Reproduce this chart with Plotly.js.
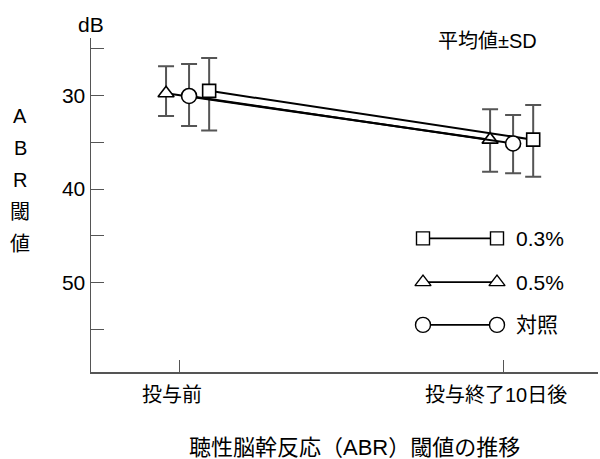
<!DOCTYPE html>
<html>
<head>
<meta charset="utf-8">
<script src="https://cdn.plot.ly/plotly-3.0.1.min.js"></script>
<style>html,body{margin:0;padding:0;background:#fff;}#chart{width:600px;height:459px;}</style>
</head>
<body>
<div id="chart"></div>
<script>
// ---- data ----
const categories = ['投与前', '投与終了10日後'];
const seriesNames = ['0.3%', '0.5%', '対照'];
const vals03 = [29.5, 34.72];
const errPlus03 = [4.25, 3.96];
const errMinus03 = [3.5, 3.71];
const vals05 = [29.76, 34.72];
const errPlus05 = [2.42, 3.42];
const errMinus05 = [2.89, 3.25];
const valsCtl = [30.05, 35.13];
const errPlusCtl = [3.21, 3.19];
const errMinusCtl = [3.42, 3.05];
const yTickVals = [30, 40, 50];
const yLabelChars = ['A', 'B', 'R', '閾', '値'];
const yUnit = 'dB';
const noteText = '平均値±SD';
const bottomTitle = '聴性脳幹反応（ABR）閾値の推移';

// ---- style / layout ----
const FONT = 'Liberation Sans, Arial, "Noto Sans CJK JP", sans-serif';
const W = 600, H = 459;
const M = {l: 91, r: 2, t: 38, b: 87};
const pw = W - M.l - M.r, ph = H - M.t - M.b;
const px2x = x => (x - M.l) / pw;
const px2y = y => (H - M.b - y) / ph;

const idx = categories.map((c, i) => i);
const groups = [
  {name: seriesNames[0], v: vals03, ep: errPlus03, em: errMinus03, sym: 'square', size: 13, off: 0.093},
  {name: seriesNames[1], v: vals05, ep: errPlus05, em: errMinus05, sym: 'triangle-up', size: 14, off: -0.04},
  {name: seriesNames[2], v: valsCtl, ep: errPlusCtl, em: errMinusCtl, sym: 'circle', size: 15, off: 0.031}
];

const traces = [];
groups.forEach(g => {
  traces.push({
    type: 'scatter', mode: 'lines+markers', name: g.name, showlegend: false,
    x: idx.map(i => i + g.off), y: g.v,
    line: {color: '#000', width: 2},
    marker: {symbol: g.sym, size: g.size, color: '#fff', line: {color: '#000', width: 1.6}},
    error_y: {type: 'data', symmetric: false, array: g.ep, arrayminus: g.em,
              color: '#555', thickness: 2, width: 8},
    cliponaxis: false
  });
});

// legend drawn on an overlay axis (0..1 over the plot area)
const legendRows = [0.400, 0.269, 0.141];
const legX = [px2x(423), px2x(497)];
groups.forEach((g, k) => {
  traces.push({
    type: 'scatter', mode: 'lines+markers', showlegend: false, hoverinfo: 'skip',
    xaxis: 'x2', yaxis: 'y2',
    x: legX, y: [legendRows[k], legendRows[k]],
    line: {color: '#000', width: 1.6},
    marker: {symbol: g.sym, size: g.size, color: '#fff', line: {color: '#000', width: 1.4}},
    cliponaxis: false
  });
});

const annotations = [];
groups.forEach((g, k) => {
  annotations.push({xref: 'paper', yref: 'paper', x: px2x(514), y: legendRows[k],
    xanchor: 'left', yanchor: 'middle', showarrow: false, text: g.name,
    font: {family: FONT, size: 21, color: '#000'}});
});
annotations.push({xref: 'paper', yref: 'paper', x: px2x(487), y: px2y(41),
  xanchor: 'center', yanchor: 'middle', showarrow: false, text: noteText,
  font: {family: FONT, size: 20, color: '#000'}});
annotations.push({xref: 'paper', yref: 'paper', x: px2x(91), y: px2y(24),
  xanchor: 'center', yanchor: 'middle', showarrow: false, text: yUnit,
  font: {family: FONT, size: 21, color: '#000'}});
annotations.push({xref: 'paper', yref: 'paper', x: px2x(354), y: px2y(447),
  xanchor: 'center', yanchor: 'middle', showarrow: false, text: bottomTitle,
  font: {family: FONT, size: 22, color: '#000'}});
yLabelChars.forEach((c, i) => {
  annotations.push({xref: 'paper', yref: 'paper', x: px2x(20), y: px2y(116 + i * 32),
    xanchor: 'center', yanchor: 'middle', showarrow: false, text: c,
    font: {family: FONT, size: 20, color: '#000'}});
});

const layout = {
  width: W, height: H, margin: M,
  paper_bgcolor: '#fff', plot_bgcolor: '#fff',
  showlegend: false,
  font: {family: FONT, size: 20, color: '#000'},
  xaxis: {
    range: [-0.2716, 1.293], tickvals: idx, ticktext: categories,
    ticks: 'inside', ticklen: 12, tickwidth: 1, tickcolor: '#555',
    showline: true, linecolor: '#555', linewidth: 1.5,
    showgrid: false, zeroline: false, ticklabelshift: -7, ticklabelstandoff: 4,
    tickfont: {family: FONT, size: 20, color: '#000'}
  },
  yaxis: {
    range: [59.56, 23.85], tickvals: yTickVals,
    ticks: 'inside', ticklen: 13, tickwidth: 1, tickcolor: '#555',
    minor: {dtick: 5, tick0: 25, ticks: 'inside', ticklen: 13, tickwidth: 1, tickcolor: '#555', showgrid: false},
    showline: true, linecolor: '#555', linewidth: 1.5,
    showgrid: false, zeroline: false,
    tickfont: {family: FONT, size: 21, color: '#000'}
  },
  xaxis2: {overlaying: 'x', range: [0, 1], visible: false, fixedrange: true},
  yaxis2: {overlaying: 'y', range: [0, 1], visible: false, fixedrange: true},
  annotations: annotations
};

Plotly.newPlot('chart', traces, layout, {displayModeBar: false, staticPlot: true});
</script>
</body>
</html>
